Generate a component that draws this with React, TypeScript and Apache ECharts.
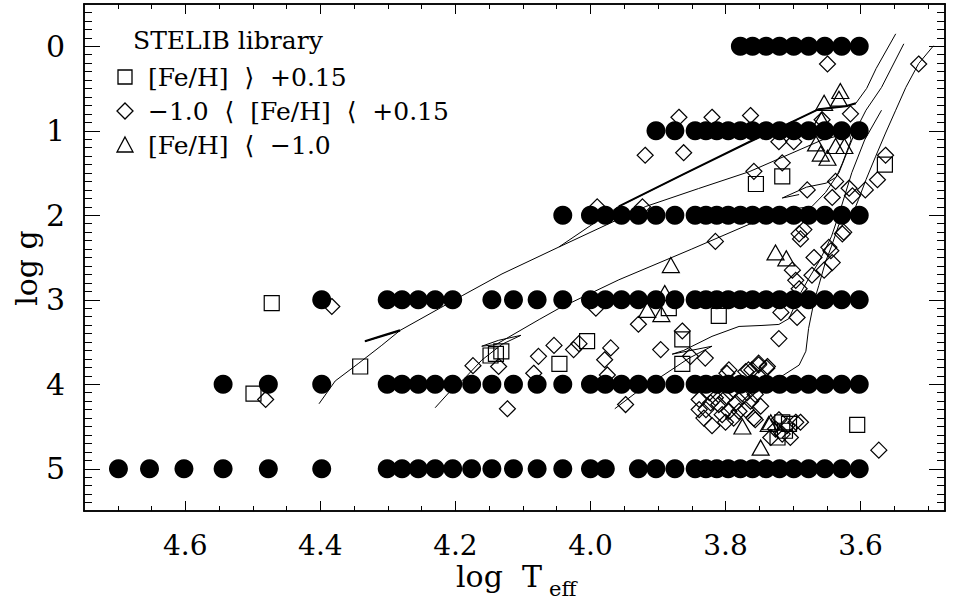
import React, { useEffect, useRef } from 'react';
import * as echarts from 'echarts';

// ---- axis ticks ----
const xMajor = [3.6, 3.8, 4.0, 4.2, 4.4, 4.6];
const xMinor = [3.5, 3.55, 3.65, 3.7, 3.75, 3.85, 3.9, 3.95, 4.05, 4.1, 4.15, 4.25, 4.3, 4.35, 4.45, 4.5, 4.55, 4.65, 4.7];
const yMajor = [0, 1, 2, 3, 4, 5];
const yMinor: number[] = [];
for (let i = -4; i <= 54; i++) if (i % 10 !== 0) yMinor.push(i / 10);

// ---- model grid (filled circles): log Teff per log g row ----
const grid0 = [3.778, 3.760, 3.740, 3.720, 3.699, 3.677, 3.653, 3.628, 3.602];
const grid1 = [3.903, 3.875, 3.845, 3.829, 3.813, 3.796, 3.778, 3.760, 3.740, 3.720, 3.699, 3.677, 3.653, 3.628, 3.602];
const grid2 = [4.041, 4.000, 3.978, 3.954, 3.929, 3.903, 3.875, 3.845, 3.829, 3.813, 3.796, 3.778, 3.760, 3.740, 3.720, 3.699, 3.677, 3.653, 3.628, 3.602];
const grid3 = [4.398, 4.301, 4.279, 4.255, 4.230, 4.204, 4.146, 4.114, 4.079, 4.041, 4.000, 3.978, 3.954, 3.929, 3.903, 3.875, 3.845, 3.829, 3.813, 3.796, 3.778, 3.760, 3.740, 3.720, 3.699, 3.677, 3.653, 3.628, 3.602];
const grid4 = [4.544, 4.477, 4.398, 4.301, 4.279, 4.255, 4.230, 4.204, 4.176, 4.146, 4.114, 4.079, 4.041, 4.000, 3.978, 3.954, 3.929, 3.903, 3.875, 3.845, 3.829, 3.813, 3.796, 3.778, 3.760, 3.740, 3.720, 3.699, 3.677, 3.653, 3.628, 3.602];
const grid5 = [4.699, 4.653, 4.602, 4.544, 4.477, 4.398, 4.301, 4.279, 4.255, 4.230, 4.204, 4.176, 4.146, 4.114, 4.079, 4.041, 4.000, 3.978, 3.929, 3.903, 3.875, 3.845, 3.829, 3.813, 3.796, 3.778, 3.760, 3.740, 3.720, 3.699, 3.677, 3.653, 3.628, 3.602];
const gridRows: [number, number[]][] = [[0, grid0], [1, grid1], [2, grid2], [3, grid3], [4, grid4], [5, grid5]];

// ---- STELIB stars ----
const metalRich = [
  [4.472, 3.04], [4.499, 4.11], [4.341, 3.79], [4.148, 3.66], [4.140, 3.64], [4.132, 3.61],
  [4.046, 3.76], [4.005, 3.49], [3.884, 3.10], [3.864, 3.47], [3.864, 3.76], [3.810, 3.19],
  [3.755, 1.63], [3.716, 1.54], [3.564, 1.40], [3.605, 4.48], [3.716, 4.45], [3.723, 4.63],
  [3.712, 4.55], [3.706, 4.47],
];
const metalSolar = [
  [4.383, 3.08], [4.481, 4.18], [4.174, 3.78], [4.136, 3.79], [4.077, 3.67], [4.054, 3.54],
  [4.084, 3.87], [4.123, 4.29], [4.025, 3.59], [4.017, 3.52], [3.970, 3.57], [3.979, 3.71],
  [3.975, 3.89], [3.929, 3.29], [3.896, 3.59], [3.864, 3.37], [3.852, 3.67], [3.830, 3.69],
  [3.948, 4.24], [3.992, 3.10], [3.869, 0.84], [3.820, 0.84], [3.919, 1.29], [3.862, 1.26],
  [3.990, 1.90], [3.923, 1.90], [3.815, 2.31], [3.649, 0.21], [3.763, 0.82], [3.615, 0.80],
  [3.657, 0.87], [3.721, 1.13], [3.699, 1.13], [3.514, 0.21], [3.563, 1.29], [3.758, 1.48],
  [3.716, 1.38], [3.679, 1.70], [3.637, 1.60], [3.617, 1.68], [3.593, 1.70], [3.575, 1.58],
  [3.642, 1.79], [3.612, 1.77], [3.684, 2.17], [3.689, 2.28], [3.625, 2.20], [3.647, 2.38],
  [3.691, 2.22], [3.627, 2.22], [3.669, 2.50], [3.644, 2.42], [3.642, 2.56], [3.701, 2.65],
  [3.672, 2.71], [3.654, 2.65], [3.696, 2.77], [3.691, 2.87], [3.718, 3.15], [3.694, 3.21],
  [3.721, 3.46], [3.751, 3.75], [3.738, 3.79], [3.766, 3.83], [3.795, 3.83], [3.761, 3.83],
  [3.751, 3.77], [3.739, 3.81], [3.770, 3.85], [3.798, 3.87],
  [3.839, 4.18], [3.829, 4.30], [3.820, 4.49], [3.832, 4.40], [3.810, 4.24], [3.800, 4.16],
  [3.795, 4.32], [3.785, 4.22], [3.775, 4.14], [3.770, 4.30], [3.763, 4.20], [3.756, 4.12],
  [3.758, 4.40], [3.788, 4.40], [3.815, 4.16], [3.822, 4.22], [3.805, 4.36], [3.780, 4.32],
  [3.768, 4.10], [3.792, 4.10], [3.748, 4.26], [3.824, 4.10], [3.800, 4.45], [3.839, 4.30],
  [3.696, 4.45], [3.709, 4.49], [3.716, 4.59], [3.704, 4.63], [3.726, 4.53], [3.733, 4.63],
  [3.721, 4.42], [3.689, 4.45], [3.756, 4.42], [3.573, 4.78],
];
const metalPoor = [
  [3.881, 2.59], [3.890, 2.92], [3.916, 3.12], [3.895, 3.17], [3.775, 4.50], [3.748, 4.75],
  [3.733, 4.45], [3.736, 4.47], [3.726, 2.44], [3.710, 2.51], [3.654, 0.67], [3.630, 0.53],
  [3.632, 0.62], [3.658, 0.87], [3.666, 1.15], [3.659, 1.27], [3.649, 1.32], [3.637, 1.18],
  [3.624, 1.18],
];

// ---- isochrones ----
const isoA = [
  [4.402, 4.231], [4.378, 3.961], [4.343, 3.750], [4.309, 3.539], [4.282, 3.363], [4.306, 3.422],
  [4.334, 3.492], [4.306, 3.422], [4.282, 3.363], [4.190, 2.952], [4.131, 2.694], [4.047, 2.377],
  [3.958, 1.896], [3.862, 1.514], [3.765, 1.133], [3.696, 0.874], [3.662, 0.745], [3.622, 0.710],
  [3.607, 0.675], [3.591, 0.499], [3.577, 0.264], [3.548, -0.147],
];
const isoAhook = [[4.334, 3.492], [4.306, 3.422], [4.282, 3.363]];
const isoAthick = [[3.958, 1.896], [3.862, 1.514], [3.765, 1.133], [3.696, 0.874], [3.662, 0.745], [3.622, 0.710], [3.607, 0.675]];
const isoB = [
  [4.047, 2.377], [3.918, 1.896], [3.840, 1.684], [3.765, 1.485], [3.657, 1.109], [3.617, 1.027],
  [3.614, 1.109], [3.627, 1.385], [3.636, 1.549], [3.651, 1.620], [3.680, 1.667], [3.716, 1.796],
  [3.691, 1.755],
];
const isoC = [
  [4.230, 4.278], [4.210, 4.102], [4.186, 3.926], [4.161, 3.715], [4.131, 3.527], [4.103, 3.421],
  [4.136, 3.480], [4.161, 3.550], [4.140, 3.530], [4.076, 3.234], [4.047, 3.104], [3.958, 2.764],
  [3.850, 2.400], [3.765, 2.107], [3.706, 1.931], [3.672, 1.896], [3.652, 1.731], [3.632, 1.496],
  [3.607, 0.992], [3.592, 0.757], [3.569, 0.487], [3.536, -0.029],
];
const isoD = [
  [3.964, 4.290], [3.933, 4.102], [3.894, 3.903], [3.854, 3.691], [3.820, 3.550], [3.879, 3.644],
  [3.862, 3.600], [3.820, 3.433], [3.780, 3.316], [3.746, 3.304], [3.721, 3.292], [3.706, 3.222],
  [3.691, 2.952], [3.677, 2.752], [3.662, 2.553], [3.652, 2.400], [3.643, 2.248], [3.632, 1.989],
  [3.613, 1.496], [3.594, 1.109], [3.569, 0.757],
];
const isoE = [
  [3.751, 4.067], [3.714, 3.891], [3.691, 3.773], [3.681, 3.609], [3.677, 3.339], [3.669, 3.022],
  [3.662, 2.834], [3.652, 2.553], [3.643, 2.365], [3.632, 2.107], [3.613, 2.013], [3.603, 1.813],
  [3.592, 1.579], [3.578, 1.309], [3.563, 1.027], [3.548, 0.757], [3.533, 0.487], [3.514, 0.205],
  [3.492, -0.006],
];

const FONT = '"DejaVu Serif", "Liberation Serif", serif';
const X_MIN = 3.475, X_MAX = 4.75, Y_MIN = -0.5, Y_MAX = 5.5;

function xAxis(position: string, ticks: number[], len: number, labels: boolean) {
  return {
    type: 'value', min: X_MIN, max: X_MAX, inverse: true, position, gridIndex: 0,
    axisLine: { show: true, onZero: false, lineStyle: { color: '#000', width: 1.5 } },
    axisTick: { show: true, inside: true, length: len, customValues: ticks, lineStyle: { color: '#000', width: 1 } },
    axisLabel: labels
      ? { show: true, customValues: xMajor, formatter: (v: number) => v.toFixed(1), margin: 20, fontFamily: FONT, fontSize: 28, color: '#000' }
      : { show: false },
    splitLine: { show: false },
  };
}
function yAxis(position: string, ticks: number[], len: number, labels: boolean) {
  return {
    type: 'value', min: Y_MIN, max: Y_MAX, inverse: true, position, gridIndex: 0,
    axisLine: { show: true, onZero: false, lineStyle: { color: '#000', width: 1.5 } },
    axisTick: { show: true, inside: true, length: len, customValues: ticks, lineStyle: { color: '#000', width: 1 } },
    axisLabel: labels
      ? { show: true, customValues: yMajor, formatter: (v: number) => String(Math.round(v)), margin: 19, fontFamily: FONT, fontSize: 30, color: '#000' }
      : { show: false },
    splitLine: { show: false },
  };
}

function lineSeries(data: number[][], width: number) {
  return {
    type: 'line', data, xAxisIndex: 0, yAxisIndex: 0, symbol: 'none', showSymbol: false, silent: true,
    lineStyle: { color: '#000', width, opacity: 1 }, z: 1, clip: true, animation: false, emphasis: { disabled: true },
  };
}
const hollow = { color: 'rgba(0,0,0,0)', borderColor: '#000', borderWidth: 1.2, opacity: 1 };

export default function App() {
  const ref = useRef<HTMLDivElement>(null);
  useEffect(() => {
    const chart = echarts.init(ref.current!, null, { renderer: 'svg' });
    const circleData: number[][] = [];
    gridRows.forEach(([g, row]) => row.forEach((t) => circleData.push([t, g])));
    chart.setOption({
      animation: false,
      backgroundColor: '#fff',
      grid: { left: 84, right: 11, top: 4, bottom: 92, containLabel: false },
      xAxis: [
        xAxis('bottom', xMajor, 10, true),
        xAxis('bottom', xMinor, 5, false),
        xAxis('top', xMajor, 10, false),
        xAxis('top', xMinor, 5, false),
      ],
      yAxis: [
        yAxis('left', yMajor, 16, true),
        yAxis('left', yMinor, 8, false),
        yAxis('right', yMajor, 16, false),
        yAxis('right', yMinor, 8, false),
      ],
      series: [
        lineSeries(isoA, 1),
        lineSeries(isoAhook, 2.2),
        lineSeries(isoAthick, 2),
        lineSeries(isoB, 1),
        lineSeries(isoC, 1),
        lineSeries(isoD, 1),
        lineSeries(isoE, 1),
        { type: 'scatter', name: 'rich', data: metalRich, symbol: 'rect', symbolSize: 15, itemStyle: hollow, z: 2, silent: true },
        { type: 'scatter', name: 'solar', data: metalSolar, symbol: 'diamond', symbolSize: [16, 16], itemStyle: hollow, z: 2, silent: true },
        { type: 'scatter', name: 'poor', data: metalPoor, symbol: 'triangle', symbolSize: [17, 15], itemStyle: hollow, z: 2, silent: true },
        { type: 'scatter', name: 'models', data: circleData, symbol: 'circle', symbolSize: 19, itemStyle: { color: '#000', opacity: 1 }, z: 3, silent: true },
      ],
      graphic: [
        { type: 'text', x: 133, y: 40, style: { text: 'STELIB library', font: `25px ${FONT}`, fill: '#000', verticalAlign: 'middle' } },
        { type: 'rect', shape: { x: 118, y: 70, width: 14, height: 14 }, style: { fill: 'none', stroke: '#000', lineWidth: 1.3 } },
        { type: 'text', x: 148, y: 77, style: { text: '[Fe/H]  \u27E9  +0.15', font: `25px ${FONT}`, fill: '#000', verticalAlign: 'middle' } },
        { type: 'polygon', shape: { points: [[125, 103], [133, 111], [125, 119], [117, 111]] }, style: { fill: 'none', stroke: '#000', lineWidth: 1.3 } },
        { type: 'text', x: 148, y: 111, style: { text: '\u22121.0  \u27E8  [Fe/H]  \u27E8  +0.15', font: `25px ${FONT}`, fill: '#000', verticalAlign: 'middle' } },
        { type: 'polygon', shape: { points: [[125, 137], [133, 152], [117, 152]] }, style: { fill: 'none', stroke: '#000', lineWidth: 1.3 } },
        { type: 'text', x: 148, y: 145, style: { text: '[Fe/H]  \u27E8  \u22121.0', font: `25px ${FONT}`, fill: '#000', verticalAlign: 'middle' } },
        { type: 'text', x: 26, y: 268, rotation: Math.PI / 2, style: { text: 'log g', font: `30px ${FONT}`, fill: '#000', align: 'center', verticalAlign: 'middle' } },
        { type: 'text', x: 456, y: 576, style: { text: 'log  T', font: `30px ${FONT}`, fill: '#000', verticalAlign: 'middle' } },
        { type: 'text', x: 549, y: 589, style: { text: 'eff', font: `21px ${FONT}`, fill: '#000', verticalAlign: 'middle' } },
      ],
    });
    return () => chart.dispose();
  }, []);
  return <div ref={ref} style={{ position: 'fixed', left: 0, top: 0, width: 956, height: 603 }} />;
}
